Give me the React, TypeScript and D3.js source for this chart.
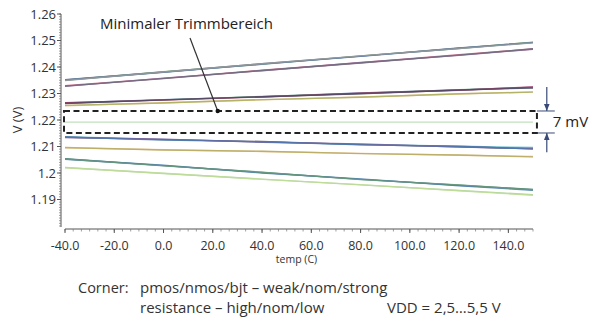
import * as d3 from "d3";

// temperature sweep points (°C)
const temps = [-40, 0, 40, 80, 120, 150];

// upper bundle
const a1 = [1.2352, 1.2381, 1.2412, 1.2441, 1.2472, 1.2493];
const a2 = [1.235, 1.2382, 1.241, 1.2442, 1.247, 1.2494];
const a3 = [1.2351, 1.238, 1.2411, 1.244, 1.2471, 1.2492];
const a4 = [1.2349, 1.2381, 1.2412, 1.2442, 1.247, 1.2491];
const a5 = [1.2329, 1.2357, 1.2388, 1.2416, 1.2446, 1.2468];
const a6 = [1.2327, 1.2358, 1.2386, 1.2417, 1.2444, 1.2467];
const a7 = [1.2328, 1.2356, 1.2387, 1.2415, 1.2445, 1.2469];

// second bundle
const b1 = [1.2264, 1.2277, 1.2288, 1.2302, 1.2313, 1.2324];
const b2 = [1.2263, 1.2276, 1.2289, 1.23, 1.2314, 1.2322];
const b3 = [1.2265, 1.2275, 1.2287, 1.2301, 1.2312, 1.2325];
const b4 = [1.2262, 1.2276, 1.2288, 1.2299, 1.2313, 1.2321];
const b5 = [1.2254, 1.2265, 1.2276, 1.2287, 1.2298, 1.2306];
const b6 = [1.2255, 1.2264, 1.2277, 1.2286, 1.2299, 1.2305];

// trimmed reference inside the band
const mid = [1.2192, 1.2192, 1.2192, 1.2192, 1.2192, 1.2192];

// third bundle
const c1 = [1.2137, 1.2127, 1.2117, 1.2108, 1.2101, 1.2096];
const c2 = [1.2135, 1.2126, 1.2119, 1.2107, 1.2099, 1.2091];
const c3 = [1.2134, 1.2128, 1.2116, 1.211, 1.2098, 1.2093];
const c4 = [1.2136, 1.2124, 1.2118, 1.2106, 1.2101, 1.209];
const c5 = [1.2095, 1.2088, 1.2081, 1.2074, 1.2067, 1.2062];
const c6 = [1.2096, 1.2087, 1.2082, 1.2073, 1.2068, 1.2061];

// lower bundle
const d1 = [1.2054, 1.2028, 1.2002, 1.1976, 1.1954, 1.1938];
const d2 = [1.2052, 1.2029, 1.2, 1.1978, 1.1952, 1.1935];
const d3v = [1.2053, 1.2027, 1.2003, 1.1975, 1.1955, 1.1937];
const d4 = [1.2021, 1.1998, 1.1977, 1.1955, 1.1934, 1.1918];
const d5 = [1.202, 1.1999, 1.1976, 1.1956, 1.1933, 1.1916];

const series = [
  { v: a1, c: "#5a5a78" }, { v: a2, c: "#7fae6e" }, { v: a3, c: "#4a72b0" }, { v: a4, c: "#9a9a9a" },
  { v: a5, c: "#c05070" }, { v: a6, c: "#8a6a9a" }, { v: a7, c: "#6e6e7e" },
  { v: b5, c: "#e8b878" }, { v: b6, c: "#a8b060" },
  { v: b1, c: "#3d5fa8" }, { v: b2, c: "#6fb26f" }, { v: b3, c: "#b0305a" }, { v: b4, c: "#4a4a6a" },
  { v: mid, c: "#b5dcb0" },
  { v: c5, c: "#e6b878" }, { v: c6, c: "#b4ac64" },
  { v: c1, c: "#56b4c8" }, { v: c2, c: "#5a5a6a" }, { v: c3, c: "#8a5a9a" }, { v: c4, c: "#4a7ab0" },
  { v: d4, c: "#a4d090" }, { v: d5, c: "#c0dc98" },
  { v: d1, c: "#2e6e5e" }, { v: d2, c: "#4a7ab0" }, { v: d3v, c: "#6a9a7a" },
];

const yTicks = [1.19, 1.2, 1.21, 1.22, 1.23, 1.24, 1.25, 1.26];
const xTicks = [-40, -20, 0, 20, 40, 60, 80, 100, 120, 140];
const trimBand = [1.2151, 1.2234];
const bracketSpan = [1.2325, 1.2078];

export default function App() {
  const x = d3.scaleLinear().domain([-40, 150]).range([65, 533]);
  const y = d3.scaleLinear().domain([1.18, 1.26]).range([226, 14]);
  const line = d3
    .line<number>()
    .x((_, i) => x(temps[i]))
    .y((d) => y(d));

  const font = "'Open Sans', sans-serif";
  const txt = "#333";
  const axisX0 = x(-40) - 4;
  const axisY0 = y(1.18) + 3;
  const yMinor = d3.range(0, 81).map((i) => 1.18 + i * 0.001);
  const xMinor = d3.range(0, 58).map((i) => -40 + (i * 20) / 6);

  const bTop = y(trimBand[1]);
  const bBot = y(trimBand[0]);
  const bL = x(-40) - 1;
  const bR = x(151.6);
  const brX = x(155.6);

  return (
    <svg width={595} height={331} style={{ position: "absolute", left: 0, top: 0, background: "#fff" }}>
      <defs>
        <marker id="ah" viewBox="0 0 10 10" refX={10} refY={5} markerWidth={6} markerHeight={6} orient="auto-start-reverse">
          <path d="M0,1 L10,5 L0,9 z" fill="#3a4a78" />
        </marker>
      </defs>

      {/* y axis */}
      <line x1={axisX0} x2={axisX0} y1={y(1.26)} y2={y(1.18) + 1} stroke="#555" strokeWidth={1} />
      {yMinor.map((t, i) => (
        <line key={i} x1={axisX0 - 2} x2={axisX0} y1={y(t)} y2={y(t)} stroke="#777" strokeWidth={0.7} />
      ))}
      {yTicks.map((t) => (
        <g key={t}>
          <line x1={axisX0 - 4} x2={axisX0} y1={y(t)} y2={y(t)} stroke="#555" />
          <text x={axisX0 - 5} y={y(t) + 4.5} textAnchor="end" fontSize={13} fontFamily={font} fill={txt}>
            {String(t)}
          </text>
        </g>
      ))}
      <text
        transform={`translate(22,${y(1.22)}) rotate(-90)`}
        textAnchor="middle"
        fontSize={13}
        fontFamily={font}
        fill={txt}
      >
        V (V)
      </text>

      {/* x axis */}
      <line x1={x(-40)} x2={x(150)} y1={axisY0} y2={axisY0} stroke="#555" strokeWidth={1} />
      {xMinor.map((t, i) => (
        <line key={i} x1={x(t)} x2={x(t)} y1={axisY0} y2={axisY0 + 2.5} stroke="#777" strokeWidth={0.7} />
      ))}
      {xTicks.map((t) => (
        <g key={t}>
          <line x1={x(t)} x2={x(t)} y1={axisY0} y2={axisY0 + 4} stroke="#555" />
          <text x={x(t)} y={axisY0 + 21} textAnchor="middle" fontSize={12.5} fontFamily={font} fill={txt}>
            {t.toFixed(1)}
          </text>
        </g>
      ))}
      <text x={x(54)} y={axisY0 + 34} textAnchor="middle" fontSize={10.5} fontFamily={font} fill={txt}>
        temp (C)
      </text>

      {/* curves */}
      {series.map((s, i) => (
        <path key={i} d={line(s.v) ?? ""} fill="none" stroke={s.c} strokeWidth={1.4} strokeOpacity={0.85} />
      ))}

      {/* trim band */}
      <rect
        x={bL}
        y={bTop}
        width={bR - bL}
        height={bBot - bTop}
        fill="none"
        stroke="#222"
        strokeWidth={2}
        strokeDasharray="6 3.5"
      />

      {/* 7 mV bracket */}
      <line x1={bR} x2={brX + 8} y1={bTop} y2={bTop} stroke="#3a4a78" strokeWidth={1} />
      <line x1={bR} x2={brX + 8} y1={bBot} y2={bBot} stroke="#3a4a78" strokeWidth={1} />
      <line x1={brX} x2={brX} y1={y(bracketSpan[0])} y2={bTop} stroke="#3a4a78" strokeWidth={1.2} markerEnd="url(#ah)" />
      <line x1={brX} x2={brX} y1={y(bracketSpan[1])} y2={bBot} stroke="#3a4a78" strokeWidth={1.2} markerEnd="url(#ah)" />
      <text x={brX + 6} y={(bTop + bBot) / 2 + 5} fontSize={15} fontFamily={font} fill="#222">
        7 mV
      </text>

      {/* annotation */}
      <text x={100} y={29} fontSize={15} fontFamily={font} fill="#222">
        Minimaler Trimmbereich
      </text>
      <line x1={190} y1={38} x2={x(22)} y2={bTop} stroke="#333" strokeWidth={1.2} />
      <circle cx={x(22)} cy={bTop} r={2.2} fill="#111" />

      {/* footnote */}
      <text x={78} y={293} fontSize={14.5} fontFamily={font} fill="#333">
        Corner:
      </text>
      <text x={140} y={293} fontSize={15} fontFamily={font} fill="#333">
        pmos/nmos/bjt – weak/nom/strong
      </text>
      <text x={140} y={313} fontSize={15} fontFamily={font} fill="#333">
        resistance – high/nom/low
      </text>
      <text x={387} y={313} fontSize={15} fontFamily={font} fill="#333">
        VDD = 2,5…5,5 V
      </text>
    </svg>
  );
}
